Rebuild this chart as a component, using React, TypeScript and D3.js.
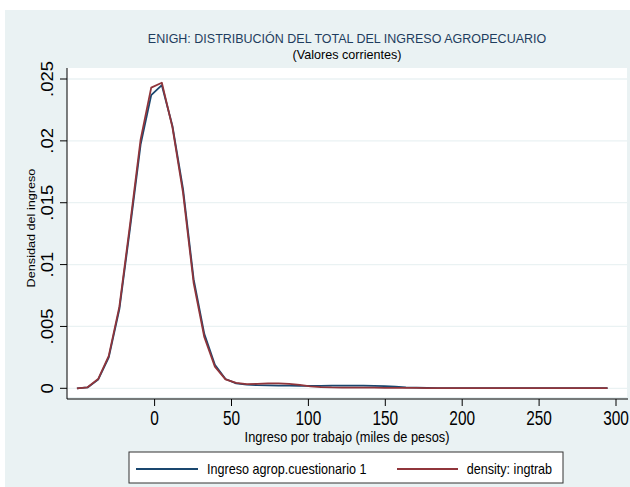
import React from "react";
import * as d3 from "d3";

const xGrid = [-50.5, -43.6, -36.7, -29.8, -22.9, -16.0, -9.1, -2.2, 4.7, 11.6, 18.5, 25.4, 32.3, 39.2, 46.1, 53.0, 59.9, 66.8, 73.7, 80.6, 87.5, 94.4, 101.3, 108.2, 115.1, 122.0, 128.9, 135.8, 142.7, 149.6, 156.5, 163.4, 170.3, 177.2, 184.1, 191.0, 197.9, 204.8, 211.7, 218.6, 225.5, 232.4, 239.3, 246.2, 253.1, 260.0, 266.9, 273.8, 280.7, 287.6, 294.5];

const blueDensity = [0.0, 0.00007, 0.0007, 0.0025, 0.0064, 0.0129, 0.0197, 0.0237, 0.0245, 0.0212, 0.0161, 0.0088, 0.0044, 0.0019, 0.00075, 0.0004, 0.0003, 0.00025, 0.00023, 0.00022, 0.00021, 0.0002, 0.0002, 0.0002, 0.00021, 0.00021, 0.00021, 0.00021, 0.0002, 0.00018, 0.00013, 0.00008, 0.00005, 0.00003, 0.00002, 0.00001, 0.00001, 0.00001, 0.00001, 0.00001, 0.00001, 0.00001, 0.00001, 0.00001, 0.00001, 0.00001, 0.00001, 0.00001, 0.00001, 0.00001, 0.00001];

const redDensity = [0.0, 0.00008, 0.00075, 0.00262, 0.0066, 0.0132, 0.0201, 0.0243, 0.0247, 0.0211, 0.0158, 0.0085, 0.00415, 0.00175, 0.00072, 0.00044, 0.00034, 0.00036, 0.00039, 0.0004, 0.00036, 0.00027, 0.00016, 0.0001, 0.00007, 0.00006, 0.00005, 0.00005, 0.00005, 0.00004, 0.00004, 0.00003, 0.00003, 0.00002, 0.00002, 0.00002, 0.00002, 0.00002, 0.00002, 0.00002, 0.00001, 0.00001, 0.00001, 0.00001, 0.00001, 0.00001, 0.00001, 0.00001, 0.00001, 0.00001, 0.00001];

const xTicks = [0, 50, 100, 150, 200, 250, 300];
const yTicks = [0, 0.005, 0.01, 0.015, 0.02, 0.025];
const yTickLabels = ["0", ".005", ".01", ".015", ".02", ".025"];

const titleText = "ENIGH: DISTRIBUCIÓN DEL TOTAL DEL INGRESO AGROPECUARIO";
const subtitleText = "(Valores corrientes)";
const xTitle = "Ingreso por trabajo (miles de pesos)";
const yTitle = "Densidad del ingreso";
const seriesNames = ["Ingreso agrop.cuestionario 1", "density: ingtrab"];
const seriesColors = ["#1a476f", "#90353b"];

const FONT = "'Liberation Sans', Arial, Helvetica, sans-serif";

function T({ x, y, size, r = 1.2, rot = false, anchor = "middle", fill = "#000", children }: any) {
  const tf = `translate(${x},${y}) scale(1,${r})${rot ? " rotate(-90)" : ""}`;
  return (
    <text transform={tf} fontSize={size} textAnchor={anchor} fill={fill} fontFamily={FONT}>
      {children}
    </text>
  );
}

export default function App() {
  const W = 630, H = 487;
  const plotL = 67, plotR = 627, plotT = 68, plotB = 399;
  const x = d3.scaleLinear().domain([0, 300]).range([154.6, 616]);
  const y = d3.scaleLinear().domain([0, 0.025]).range([388.3, 79]);
  const line = d3.line<number>().x((_, i) => x(xGrid[i])).y((d) => y(d));
  const series = [blueDensity, redDensity];
  const cx = (plotL + plotR) / 2;

  return (
    <svg width={W} height={H} style={{ position: "absolute", left: 0, top: 0 }}>
      <rect x={0} y={0} width={W} height={H} fill="#ffffff" />
      <rect x={5} y={10} width={W - 5} height={H - 10} fill="#eaf2f3" />
      <rect x={plotL} y={plotT} width={plotR - plotL} height={plotB - plotT - 2} fill="#ffffff" />
      {yTicks.map((t) => (
        <line key={"g" + t} x1={plotL} x2={plotR} y1={y(t)} y2={y(t)} stroke="#eaf2f3" strokeWidth={1.3} />
      ))}
      {series.map((s, k) => (
        <path key={k} d={line(s) || ""} fill="none" stroke={seriesColors[k]} strokeWidth={1.8} strokeLinejoin="round" />
      ))}
      <line x1={plotL} x2={plotL} y1={plotT} y2={plotB} stroke="#000" strokeWidth={1} />
      <line x1={plotL} x2={plotR + 1} y1={plotB} y2={plotB} stroke="#000" strokeWidth={1} />
      {yTicks.map((t, i) => (
        <g key={"y" + t}>
          <line x1={plotL - 7} x2={plotL} y1={y(t)} y2={y(t)} stroke="#000" strokeWidth={1} />
          <T x={53} y={y(t)} size={16.5} r={1.12} rot>{yTickLabels[i]}</T>
        </g>
      ))}
      {xTicks.map((t) => (
        <g key={"x" + t}>
          <line x1={x(t)} x2={x(t)} y1={plotB} y2={plotB + 7} stroke="#000" strokeWidth={1} />
          <T x={x(t)} y={425} size={15.4} r={1.28}>{String(t)}</T>
        </g>
      ))}
      <T x={cx} y={441.5} size={12.8} r={1.14}>{xTitle}</T>
      <T x={35.3} y={228} size={11.4} r={1.11} rot>{yTitle}</T>
      <T x={cx} y={42.7} size={12.5} r={1.08} fill="#1e3d5e">{titleText}</T>
      <T x={cx} y={58.5} size={12.6} r={1.0}>{subtitleText}</T>
      <rect x={129} y={452} width={434} height={31} fill="#ffffff" stroke="#333" strokeWidth={1} />
      <line x1={136} x2={198} y1={469} y2={469} stroke={seriesColors[0]} strokeWidth={1.8} />
      <T x={207} y={474} size={12.6} r={1.2} anchor="start">{seriesNames[0]}</T>
      <line x1={397} x2={458} y1={469} y2={469} stroke={seriesColors[1]} strokeWidth={1.8} />
      <T x={466.7} y={474} size={12.6} r={1.2} anchor="start">{seriesNames[1]}</T>
    </svg>
  );
}
